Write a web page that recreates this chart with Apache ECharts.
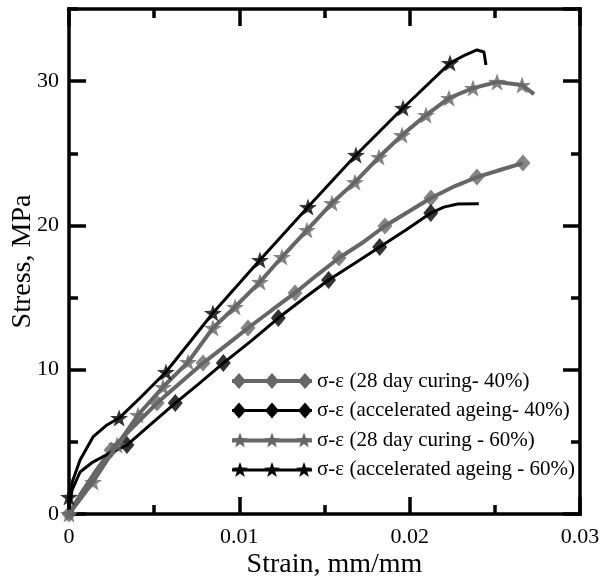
<!DOCTYPE html>
<html><head><meta charset="utf-8">
<script src="https://cdn.jsdelivr.net/npm/echarts@6/dist/echarts.min.js"></script>
<style>html,body{margin:0;padding:0;background:#fff}#c{width:600px;height:581px}</style>
</head><body><div id="c"></div>
<script>
// ---------- data ----------
const seriesNames = [
  'σ-ε (28 day curing- 40%)',
  'σ-ε (accelerated ageing- 40%)',
  'σ-ε (28 day curing - 60%)',
  'σ-ε (accelerated ageing - 60%)'
];
const xTicks = [0, 0.01, 0.02, 0.03];
const yTicks = [0, 10, 20, 30];

// 28 day curing 40% : [strain, stress]
const curve28_40 = [[0,0],[0.00065,1.32],[0.00153,2.91],[0.00247,4.44],[0.00382,6.1],[0.00517,7.69],[0.00652,9.08],[0.00787,10.46],[0.00916,11.64],[0.01051,12.89],[0.01192,14.14],[0.01327,15.32],[0.01456,16.56],[0.01585,17.74],[0.0172,18.78],[0.01855,19.96],[0.0199,20.93],[0.02125,21.9],[0.02266,22.73],[0.02395,23.35],[0.0253,23.84],[0.02665,24.32]];
const marks28_40 = [0,3,5,7,9,11,13,15,17,19,21];

// accelerated ageing 40%
const curveAA_40 = [[0,0.3],[0.00018,1.66],[0.00065,2.91],[0.0014,3.6],[0.0024,4.23],[0.0034,4.78],[0.00476,6.17],[0.00624,7.69],[0.0076,9.0],[0.00906,10.46],[0.0107,12.0],[0.01229,13.58],[0.0138,14.95],[0.01524,16.22],[0.0168,17.4],[0.01824,18.5],[0.0198,19.7],[0.02124,20.86],[0.022,21.27],[0.02282,21.48],[0.02406,21.5]];
const marksAA_40 = [5,7,9,11,13,15,17];

// 28 day curing 60%
const curve28_60 = [[0,0],[0.00141,2.22],[0.00282,4.78],[0.00405,6.86],[0.00552,8.8],[0.00699,10.53],[0.00845,12.89],[0.00975,14.35],[0.01121,16.08],[0.0125,17.81],[0.01397,19.68],[0.01544,21.55],[0.01679,23.0],[0.0182,24.74],[0.01955,26.26],[0.02096,27.65],[0.02231,28.83],[0.02372,29.52],[0.02513,29.94],[0.0266,29.73],[0.0273,29.1]];
const marks28_60 = [0,1,2,3,4,5,6,7,8,9,10,11,12,13,14,15,16,17,18,19];

// accelerated ageing 60%
const curveAA_60 = [[0,0.3],[0,1.18],[0.00023,2.36],[0.00065,3.74],[0.00141,5.34],[0.00223,6.17],[0.00294,6.65],[0.00417,8.04],[0.00569,9.84],[0.0071,11.92],[0.00845,13.93],[0.01121,17.6],[0.01403,21.27],[0.01685,24.88],[0.01961,28.14],[0.02237,31.25],[0.02325,31.81],[0.02395,32.16],[0.02436,32.02],[0.02448,31.12]];
const marksAA_60 = [1,6,8,10,11,12,13,14,15];

// ---------- styling ----------
const GREY = '#666666', BLACK = '#000000';
const FONT = 'Liberation Serif';

function starPath(cx, cy, R, r) {
  let s = '';
  for (let i = 0; i < 10; i++) {
    const a = (-90 + i * 36) * Math.PI / 180;
    const rad = i % 2 === 0 ? R : r;
    s += (i === 0 ? 'M' : 'L') + (cx + rad * Math.cos(a)).toFixed(3) + ',' + (cy + rad * Math.sin(a)).toFixed(3);
  }
  return s + 'Z';
}
function diamondPath(cx, cy, hw, hh) {
  return `M${cx-hw},${cy}L${cx},${cy-hh}L${cx+hw},${cy}L${cx},${cy+hh}Z`;
}
const starSym = 'path://' + starPath(10, 10, 10, 4);
const legendDiamond = (t) => 'path://' + `M0,${8-t/2}L80,${8-t/2}L80,${8+t/2}L0,${8+t/2}Z` + diamondPath(7,8,7,8) + diamondPath(40,8,7,8) + diamondPath(73,8,7,8);
const legendStar = (t) => 'path://' + `M0,${8-t/2}L80,${8-t/2}L80,${8+t/2}L0,${8+t/2}Z` + starPath(8,8.4,8.2,3.3) + starPath(40,8.4,8.2,3.3) + starPath(72,8.4,8.2,3.3);

const curves = [curve28_40, curveAA_40, curve28_60, curveAA_60];
const marks = [marks28_40, marksAA_40, marks28_60, marksAA_60];
const colors = [GREY, BLACK, GREY, BLACK];
const widths = [4, 3, 4, 3];
const syms = ['diamond', 'diamond', starSym, starSym];
const symSizes = [[15,17],[15,18],[18,17],[18,17]];
const legendIcons = [legendDiamond(4), legendDiamond(3), legendStar(4), legendStar(3)];

const series = [];
curves.forEach((c, i) => {
  series.push({
    type: 'line', name: seriesNames[i], data: c, symbol: 'none',
    lineStyle: { color: colors[i], width: widths[i] }, itemStyle: { color: colors[i] },
    z: 2 + i, silent: true, animation: false
  });
  series.push({
    type: 'scatter', name: 'mk' + i, data: marks[i].map(k => c[k]),
    symbol: syms[i], symbolSize: symSizes[i], itemStyle: { color: colors[i] },
    z: 2 + i, silent: true, animation: false
  });
});

const axLine = { show: true, onZero: false, lineStyle: { color: '#000', width: 3.5, cap: 'square' } };
const noLine = { show: false, onZero: false };
const tickMaj = { show: true, inside: true, length: 17, lineStyle: { color: '#000', width: 3.5 } };
const tickMin = { show: true, inside: true, length: 9, lineStyle: { color: '#000', width: 3.5 } };
const lbl = { color: '#000', fontFamily: FONT, fontSize: 22 };

const xBase = { type: 'value', min: xTicks[0], max: xTicks[xTicks.length-1], interval: xTicks[1]-xTicks[0],
  splitLine: { show: false }, axisLine: axLine, axisTick: tickMaj,
  minorTick: { show: true, splitNumber: 2, length: 9, lineStyle: { color: '#000', width: 3.5 } } };
const yMax = 35;
const yBase = { type: 'value', min: yTicks[0], max: yMax, splitLine: { show: false } };

const option = {
  animation: false,
  textStyle: { fontFamily: FONT },
  grid: { left: 69, right: 20, top: 9, bottom: 67, containLabel: false, outerBoundsMode: 'none' },
  xAxis: [
    Object.assign({}, xBase, { position: 'bottom',
      axisLabel: Object.assign({ margin: 12, formatter: v => String(v) }, lbl),
      name: 'Strain, mm/mm', nameLocation: 'middle', nameGap: 37, nameMoveOverlap: false,
      nameTextStyle: { color: '#000', fontFamily: FONT, fontSize: 28, padding: [0,0,0,20] } }),
    Object.assign({}, xBase, { position: 'top', axisLabel: { show: false } })
  ],
  yAxis: [
    Object.assign({}, yBase, { position: 'left', interval: 10, axisLine: axLine, axisTick: tickMaj,
      axisLabel: Object.assign({ margin: 10, showMaxLabel: false, formatter: v => (v % 10 === 0 && v <= 30) ? String(v) : '' }, lbl),
      name: 'Stress, MPa', nameLocation: 'middle', nameGap: 32, nameMoveOverlap: false,
      nameTextStyle: { color: '#000', fontFamily: FONT, fontSize: 28 } }),
    Object.assign({}, yBase, { position: 'right', interval: 10, axisLine: axLine, axisTick: tickMaj, axisLabel: { show: false } }),
    Object.assign({}, yBase, { position: 'left', interval: 5, axisLine: noLine, axisTick: tickMin, axisLabel: { show: false } }),
    Object.assign({}, yBase, { position: 'right', interval: 5, axisLine: noLine, axisTick: tickMin, axisLabel: { show: false } })
  ],
  legend: {
    orient: 'vertical', left: 227, top: 365, align: 'left',
    itemWidth: 80, itemHeight: 16, itemGap: 7.5, selectedMode: false,
    itemStyle: { borderWidth: 0 },
    textStyle: { color: '#000', fontFamily: FONT, fontSize: 21, lineHeight: 22 },
    data: seriesNames.map((n, i) => ({ name: n, icon: legendIcons[i], itemStyle: { color: colors[i], borderWidth: 0 } }))
  },
  series: series
};
const chart = echarts.init(document.getElementById('c'), null, { renderer: 'canvas' });
chart.setOption(option);
</script>
</body></html>
